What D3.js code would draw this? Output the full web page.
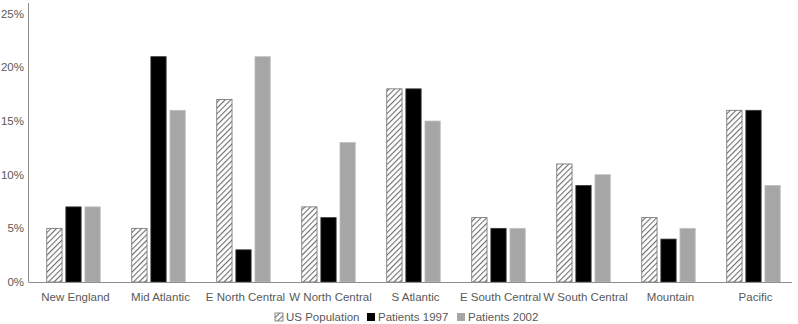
<!DOCTYPE html>
<html>
<head>
<meta charset="utf-8">
<script src="https://cdn.jsdelivr.net/npm/d3@7"></script>
<style>
  body { margin: 0; background: #fff; }
  svg text { font-family: "Liberation Sans", Arial, sans-serif; fill: #595959; }
</style>
</head>
<body>
<div id="chart"></div>
<script>
const width = 798;
const height = 324;

// data (percent)
var regions = ["New England", "Mid Atlantic", "E North Central", "W North Central",
  "S Atlantic", "E South Central", "W South Central", "Mountain", "Pacific"];
var seriesNames = ["US Population", "Patients 1997", "Patients 2002"];
var usPopulation = [5, 5, 17, 7, 18, 6, 11, 6, 16];
var patients1997 = [7, 21, 3, 6, 18, 5, 9, 4, 16];
var patients2002 = [7, 16, 21, 13, 15, 5, 10, 5, 9];
var yTicks = [0, 5, 10, 15, 20, 25];

var seriesValues = [usPopulation, patients1997, patients2002];
var fills = ["url(#hatch)", "#000000", "#a6a6a6"];

var svg = d3.select("#chart").append("svg")
  .attr("width", width)
  .attr("height", height);

// diagonal hatch for the US population bars
var defs = svg.append("defs");
var pat = defs.append("pattern")
  .attr("id", "hatch")
  .attr("patternUnits", "userSpaceOnUse")
  .attr("width", 4)
  .attr("height", 4)
  .attr("patternTransform", "rotate(45)");
pat.append("rect").attr("width", 4).attr("height", 4).attr("fill", "#fff");
pat.append("line")
  .attr("x1", 0).attr("y1", 0).attr("x2", 0).attr("y2", 4)
  .attr("stroke", "#6e6e6e")
  .attr("stroke-width", 2.2);

const x0 = d3.scaleBand()
  .domain(regions)
  .range([31, 796]);

const x1 = d3.scaleBand()
  .domain(seriesNames)
  .range([0, 53.5])
  .paddingInner(0.2);

const y = d3.scaleLinear()
  .domain([0, 26])
  .range([282, 3]);

// y axis line + labels
svg.append("line")
  .attr("x1", 28.5).attr("x2", 28.5)
  .attr("y1", y(26)).attr("y2", y(0))
  .attr("stroke", "#8c8c8c");

svg.append("g").selectAll("text")
  .data(yTicks)
  .enter().append("text")
  .attr("x", 24)
  .attr("y", d => y(d))
  .attr("dy", "0.35em")
  .attr("text-anchor", "end")
  .style("font-size", "11.5px")
  .text(d => d + "%");

// bars
var groups = svg.append("g").selectAll("g")
  .data(regions)
  .enter().append("g")
  .attr("transform", d => "translate(" + (x0(d) + (x0.bandwidth() - 53.5) / 2) + ",0)");

groups.selectAll("rect")
  .data((d, i) => seriesNames.map((s, j) => ({ s: s, j: j, v: seriesValues[j][i] })))
  .enter().append("rect")
  .attr("x", d => x1(d.s))
  .attr("y", d => y(d.v))
  .attr("width", x1.bandwidth())
  .attr("height", d => y(0) - y(d.v))
  .attr("fill", d => fills[d.j])
  .attr("stroke", d => d.j == 0 ? "#6e6e6e" : (d.j == 1 ? "#3a3a3a" : "#c0c0c0"))
  .attr("stroke-width", 0.8);

// baseline
svg.append("line")
  .attr("x1", 28.5).attr("x2", 792)
  .attr("y1", y(0) + 0.5).attr("y2", y(0) + 0.5)
  .attr("stroke", "#8c8c8c");

// category labels
svg.append("g").selectAll("text")
  .data(regions)
  .enter().append("text")
  .attr("x", d => x0(d) + x0.bandwidth() / 2 + 2)
  .attr("y", 297)
  .attr("dy", "0.35em")
  .attr("text-anchor", "middle")
  .style("font-size", "11.5px")
  .text(d => d);

// legend
var legendX = [275, 367, 457];
var legend = svg.append("g").selectAll("g")
  .data(seriesNames)
  .enter().append("g")
  .attr("transform", (d, i) => "translate(" + legendX[i] + ",317)");

legend.append("rect")
  .attr("x", 0).attr("y", -4)
  .attr("width", 8).attr("height", 8)
  .attr("fill", (d, i) => fills[i])
  .attr("stroke", (d, i) => i == 0 ? "#6e6e6e" : "none")
  .attr("stroke-width", 0.8);

legend.append("text")
  .attr("x", 11)
  .attr("dy", "0.35em")
  .style("font-size", "11.5px")
  .text(d => d);
</script>
</body>
</html>
